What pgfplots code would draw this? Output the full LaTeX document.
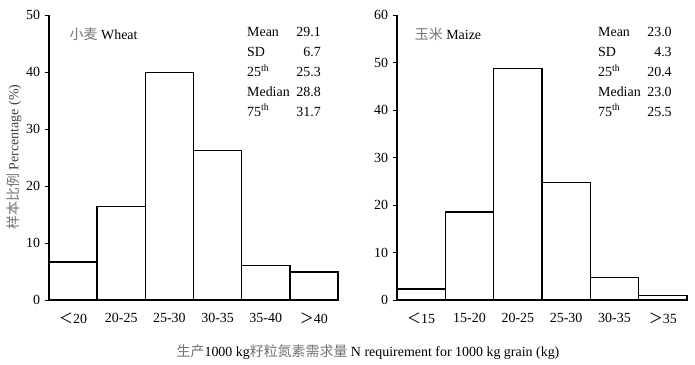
\documentclass[border=0pt]{standalone}
\usepackage{fontspec}
\setmainfont{Liberation Serif}
\newfontfamily\cjk{Noto Sans CJK SC}
\usepackage{pgfplots}
\pgfplotsset{compat=1.18}
\newcommand{\srow}[5]{%
  \node[anchor=base west, inner sep=0] at (rel axis cs:#1,#3) {#4};
  \node[anchor=base east, inner sep=0] at (rel axis cs:#2,#3) {#5};}
\begin{document}
\fontsize{14}{16}\selectfont
\begin{tikzpicture}[x=1bp,y=1bp]
\path[use as bounding box] (-49bp,-65bp) rectangle (646bp,300bp);
\pgfplotsset{
 hist/.style={
  scale only axis, height=285bp,
  ybar, bar width=1, xmin=0, xmax=6, ymin=0,
  axis x line*=bottom, axis y line*=left,
  axis line style={-, line width=1.2pt},
  xtick={0.5,1.5,...,5.5}, xtick style={draw=none},
  ytick style={line width=1pt, black}, tick align=outside, major tick length=4bp,
  tick label style={font=\fontsize{14}{16}\selectfont},
  xticklabel style={yshift=-4bp},
  /pgf/number format/assume math mode=true,
  clip=false,
 },
 barst/.style={draw=black, fill=white, line width=1.4pt}
}
% Wheat
\begin{axis}[hist, at={(0bp,0bp)}, anchor=south west, width=289bp,
  ymax=50, ytick={0,10,...,50},
  xticklabels={{\cjk ＜}20,20-25,25-30,30-35,35-40,{\cjk ＞}40}]
\addplot[barst] coordinates {(0.5,6.7) (1.5,16.4) (2.5,39.9) (3.5,26.2) (4.5,6.1) (5.5,4.9)};
\node[anchor=west] at (rel axis cs:0.055,0.933) {{\cjk\color{black!55}小麦} Wheat};
\srow{0.685}{0.941}{0.925}{Mean}{29.1}
\srow{0.685}{0.941}{0.855}{SD}{6.7}
\srow{0.685}{0.941}{0.785}{25\textsuperscript{th}}{25.3}
\srow{0.685}{0.941}{0.715}{Median}{28.8}
\srow{0.685}{0.941}{0.645}{75\textsuperscript{th}}{31.7}
\end{axis}
% Maize
\begin{axis}[hist, at={(348bp,0bp)}, anchor=south west, width=290bp,
  ymax=60, ytick={0,10,...,60},
  xticklabels={{\cjk ＜}15,15-20,20-25,25-30,30-35,{\cjk ＞}35}]
\addplot[barst] coordinates {(0.5,2.3) (1.5,18.5) (2.5,48.8) (3.5,24.7) (4.5,4.7) (5.5,0.9)};
\node[anchor=west] at (rel axis cs:0.045,0.933) {{\cjk\color{black!55}玉米} Maize};
\srow{0.693}{0.948}{0.925}{Mean}{23.0}
\srow{0.693}{0.948}{0.855}{SD}{4.3}
\srow{0.693}{0.948}{0.785}{25\textsuperscript{th}}{20.4}
\srow{0.693}{0.948}{0.715}{Median}{23.0}
\srow{0.693}{0.948}{0.645}{75\textsuperscript{th}}{25.5}
\end{axis}
\node[rotate=90, text=black!75] at (-35bp,143bp) {{\cjk\color{black!55}样本比例} Percentage (\%)};
\node at (319bp,-52bp) {{\cjk\color{black!55}生产}1000 kg{\cjk\color{black!55}籽粒氮素需求量} N requirement for 1000 kg grain (kg)};
\end{tikzpicture}
\end{document}
